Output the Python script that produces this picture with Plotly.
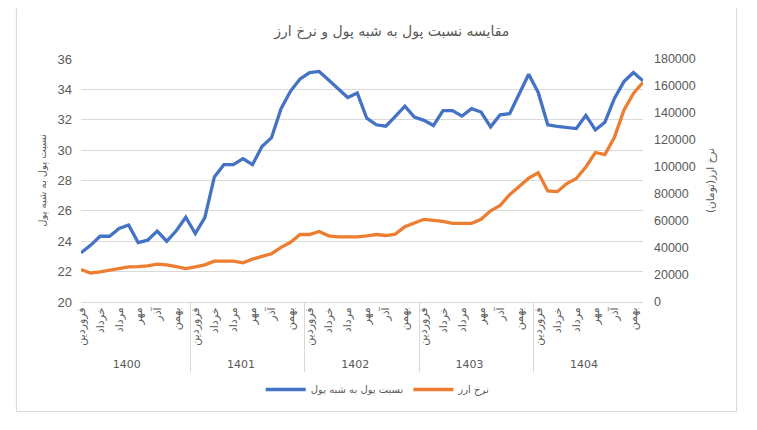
import plotly.graph_objects as go

# years and months (only every other month name is printed on the axis, like the original)
years = ["1400", "1401", "1402", "1403", "1404"]
month_labels = ["فروردین", "", "خرداد", "", "مرداد", "", "مهر", "", "آذر", "", "بهمن", ""]

# نسبت پول به شبه پول (left axis)
ratio = [23.24, 23.73, 24.33, 24.33, 24.84, 25.07, 23.91, 24.07, 24.67, 24.00, 24.69, 25.58,
         24.51, 25.56, 28.24, 29.04, 29.04, 29.44, 29.04, 30.24, 30.82, 32.73, 33.89, 34.69,
         35.11, 35.18, 34.62, 34.04, 33.47, 33.76, 32.10, 31.67, 31.58, 32.22, 32.89, 32.18,
         31.96, 31.62, 32.60, 32.60, 32.24, 32.73, 32.51, 31.53, 32.33, 32.40, 33.67, 35.00,
         33.80, 31.67, 31.56, 31.49, 31.42, 32.29, 31.33, 31.84, 33.40, 34.51, 35.11, 34.56]

# نرخ ارز (right axis, toman)
fx_rate = [24000, 21500, 22250, 23500, 24500, 26000, 26250, 26750, 28000, 27500, 26250, 24750,
           26000, 27500, 30250, 30500, 30250, 29000, 31750, 33750, 35750, 40500, 44250, 50000,
           50000, 52250, 49000, 48250, 48250, 48250, 49000, 50000, 49250, 50250, 55750, 58750,
           61250, 60500, 59750, 58250, 58250, 58250, 61250, 67500, 71500, 79500, 85500, 91750,
           95750, 82250, 81750, 87750, 91500, 100000, 110750, 109250, 122000, 142000, 154500, 162750]

# multicategory x: blank months get unique whitespace so they stay separate categories
x_year = []
x_month = []
for y in years:
    for k, m in enumerate(month_labels):
        x_year.append(y)
        x_month.append(m if m else " " * (k + 1))

grid = "#d9d9d9"
txt = "#595959"
fonts = "Liberation Sans, DejaVu Sans, Arial"

fig = go.Figure()
fig.add_trace(go.Scatter(x=[x_year, x_month], y=ratio, mode="lines", name="نسبت پول به شبه پول",
                         line=dict(color="#4472C4", width=3.3)))
fig.add_trace(go.Scatter(x=[x_year, x_month], y=fx_rate, mode="lines", name="نرخ ارز", yaxis="y2",
                         line=dict(color="#ED7D31", width=3.3)))

# the page body adds 8px around the figure, so margins are pulled in by 8
fig.update_layout(
    width=757, height=430,
    margin=dict(l=73, r=122, t=51, b=136),
    paper_bgcolor="white", plot_bgcolor="white",
    font=dict(family=fonts, color=txt, size=12),
    title=dict(text="مقایسه نسبت پول به شبه پول و نرخ ارز", x=0.507, xanchor="center",
               y=0.9465, yanchor="middle", font=dict(size=14, color=txt, family="DejaVu Sans")),
    xaxis=dict(type="multicategory", tickangle=-90, tickfont=dict(size=11, family="DejaVu Sans"),
               showline=True, linecolor=grid, showgrid=False, ticks="", automargin=False,
               showdividers=True, dividercolor=grid, dividerwidth=1),
    yaxis=dict(range=[20, 36], dtick=2, gridcolor=grid, zeroline=False, showline=False,
               tickfont=dict(size=13), ticklabelstandoff=8, automargin=False,
               title=dict(text="نسبت پول به شبه پول", standoff=9,
                          font=dict(size=10, family="DejaVu Sans", color=txt))),
    yaxis2=dict(range=[0, 180000], dtick=20000, overlaying="y", side="right", showgrid=False,
                zeroline=False, tickformat="d", tickfont=dict(size=12.5), ticklabelstandoff=10,
                automargin=False,
                title=dict(text="نرخ ارز(تومان)", standoff=11,
                           font=dict(size=10.5, family="DejaVu Sans", color=txt))),
    legend=dict(orientation="h", x=0.528, xanchor="center", y=-0.36, yanchor="middle",
                font=dict(size=10, family="DejaVu Sans", color=txt), itemwidth=40),
    shapes=[dict(type="rect", xref="paper", yref="paper", x0=-0.115, x1=1.1666, y0=-0.451, y1=1.2116,
                 line=dict(color=grid, width=1), fillcolor="rgba(0,0,0,0)", layer="below")],
)

fig.write_html("out.html")
